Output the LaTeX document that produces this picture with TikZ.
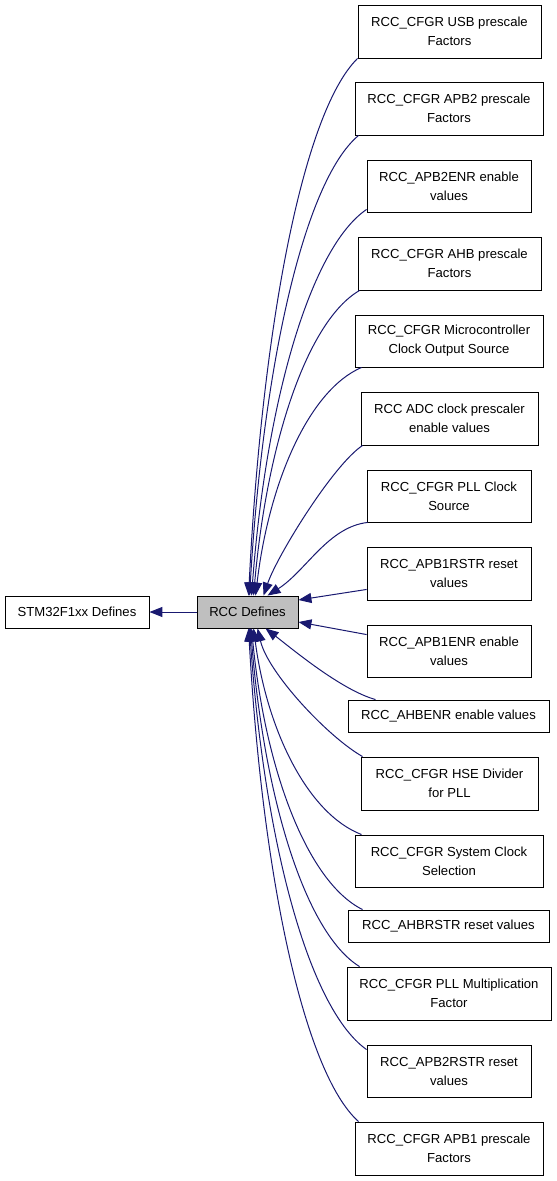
\documentclass[tikz,border=0pt]{standalone}
\usepackage{fontspec}
\setmainfont{Liberation Sans}
\usetikzlibrary{arrows.meta}
\definecolor{edgeblue}{HTML}{191970}
\definecolor{boxgrey}{HTML}{BFBFBF}
\begin{document}
\begin{tikzpicture}[x=1pt,y=-1pt,
  box/.style={draw=black, line width=0.9pt, fill=white, inner sep=0pt, align=center,
    font=\fontsize{13.1}{19}\selectfont},
  edge/.style={draw=edgeblue, line width=1pt, -{Triangle[length=13pt,width=10pt]}, fill=none}]
\useasboundingbox (0,0) rectangle (557,1181);
% nodes
\node[box, minimum width=144pt, minimum height=32pt] (stm) at (77,612) {STM32F1xx Defines};
\node[box, fill=boxgrey, minimum width=101pt, minimum height=32pt] (rcc) at (247.5,612) {RCC Defines};
\node[box, minimum width=183pt, minimum height=53pt] (n1) at (449.5,31.5) {RCC\_CFGR USB prescale\\Factors};
\node[box, minimum width=188pt, minimum height=53pt] (n2) at (449,108.5) {RCC\_CFGR APB2 prescale\\Factors};
\node[box, minimum width=164pt, minimum height=52pt] (n3) at (449,186) {RCC\_APB2ENR enable\\values};
\node[box, minimum width=183pt, minimum height=53pt] (n4) at (449.5,263.5) {RCC\_CFGR AHB prescale\\Factors};
\node[box, minimum width=188pt, minimum height=52pt] (n5) at (449,341) {RCC\_CFGR Microcontroller\\Clock Output Source};
\node[box, minimum width=177pt, minimum height=53pt] (n6) at (449.5,418.5) {RCC ADC clock prescaler\\enable values};
\node[box, minimum width=164pt, minimum height=52pt] (n7) at (449,496) {RCC\_CFGR PLL Clock\\Source};
\node[box, minimum width=164pt, minimum height=53pt] (n8) at (449,573.5) {RCC\_APB1RSTR reset\\values};
\node[box, minimum width=164pt, minimum height=52pt] (n9) at (449,651) {RCC\_APB1ENR enable\\values};
\node[box, minimum width=201pt, minimum height=32pt] (n10) at (448.5,716) {RCC\_AHBENR enable values};
\node[box, minimum width=177pt, minimum height=53pt] (n11) at (449.5,783.5) {RCC\_CFGR HSE Divider\\for PLL};
\node[box, minimum width=188pt, minimum height=52pt] (n12) at (449,861) {RCC\_CFGR System Clock\\Selection};
\node[box, minimum width=201pt, minimum height=32pt] (n13) at (448.5,926) {RCC\_AHBRSTR reset values};
\node[box, minimum width=204pt, minimum height=53pt] (n14) at (449,993.5) {RCC\_CFGR PLL Multiplication\\Factor};
\node[box, minimum width=164pt, minimum height=52pt] (n15) at (449,1071) {RCC\_APB2RSTR reset\\values};
\node[box, minimum width=188pt, minimum height=53pt] (n16) at (449,1148.5) {RCC\_CFGR APB1 prescale\\Factors};
% edges
\draw[edge] (rcc.west) -- (stm.east);
\draw[edge] (n1.south west) .. controls (303,112) and (262,327) .. ([xshift=52pt]rcc.north west);
\draw[edge] ([xshift=4pt]n2.south west) .. controls (304,181) and (263,366) .. ([xshift=53pt]rcc.north west);
\draw[edge] ([yshift=3pt]n3.south west) .. controls (310,248) and (266,403) .. ([xshift=55pt]rcc.north west);
\draw[edge] ([xshift=2pt]n4.south west) .. controls (307,321) and (267,443) .. ([xshift=57pt]rcc.north west);
\draw[edge] ([xshift=7pt]n5.south west) .. controls (309,390) and (269,482) .. ([xshift=59pt]rcc.north west);
\draw[edge] ([xshift=2pt]n6.south west) .. controls (333,465) and (277,556) .. ([xshift=67pt]rcc.north west);
\draw[edge] ([xshift=1pt]n7.south west) .. controls (328,527) and (306,571) .. ([xshift=71pt]rcc.north west);
\draw[edge] ([yshift=11pt]n8.south west) -- ([yshift=12pt]rcc.east);
\draw[edge] ([yshift=-10pt]n9.north west) -- ([yshift=-10pt]rcc.east);
\draw[edge] ([xshift=28pt]n10.north west) .. controls (341,690) and (291,648) .. ([xshift=69pt]rcc.south west);
\draw[edge] ([xshift=2pt]n11.north west) .. controls (328,737) and (268,673) .. ([xshift=61pt]rcc.south west);
\draw[edge] ([xshift=7pt]n12.north west) .. controls (308,814) and (267,731) .. ([xshift=57pt]rcc.south west);
\draw[edge] ([xshift=15pt]n13.north west) .. controls (307,882) and (265,769) .. ([xshift=55pt]rcc.south west);
\draw[edge] ([xshift=13pt]n14.north west) .. controls (305,933) and (264,797) .. ([xshift=54pt]rcc.south west);
\draw[edge] ([yshift=-5pt]n15.north west) .. controls (308,1008) and (264,839) .. ([xshift=53pt]rcc.south west);
\draw[edge] ([xshift=4pt]n16.north west) .. controls (304,1073) and (262,875) .. ([xshift=52pt]rcc.south west);
\end{tikzpicture}
\end{document}
